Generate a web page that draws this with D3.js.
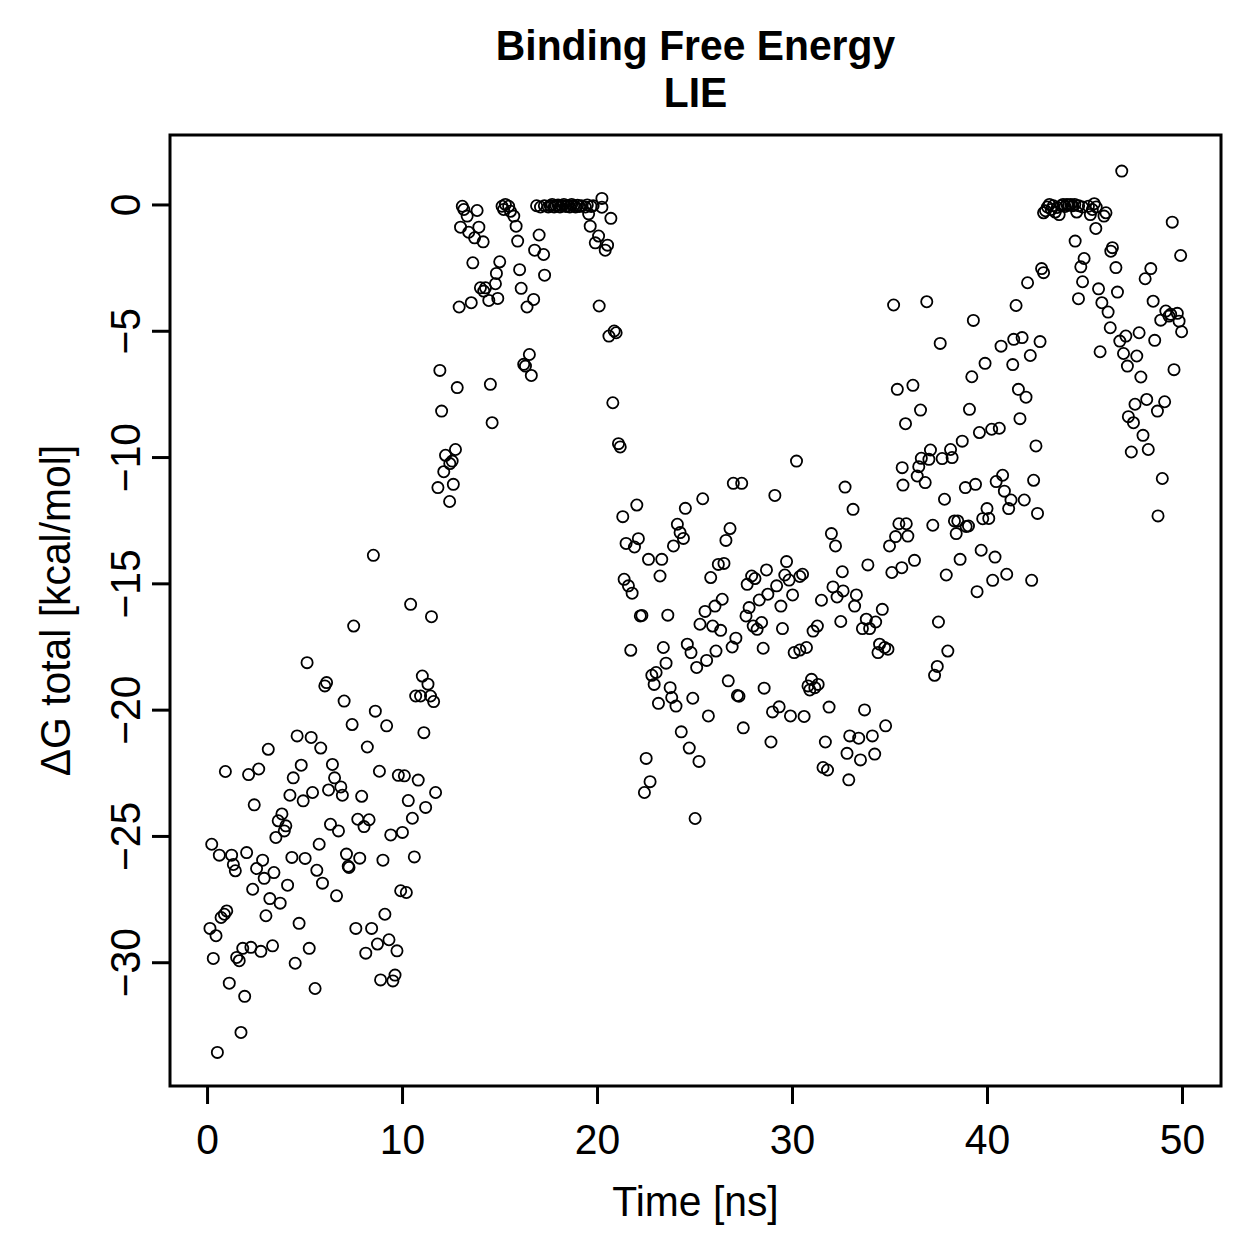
<!DOCTYPE html>
<html>
<head>
<meta charset="utf-8">
<script src="https://d3js.org/d3.v7.min.js"></script>
<style>
  body { margin: 0; background: #fff; }
  text { font-family: "Liberation Sans", Arial, Helvetica, sans-serif; fill: #000; }
</style>
</head>
<body>
<div id="chart"></div>
<script>
// [time ns, dG kcal/mol], grouped by phase of the run
const bound1 = [
  [8.53,-13.89],[10.44,-15.83],[11.51,-16.32],[7.52,-16.69],[5.13,-18.14],[6.13,-18.93],[6.04,-19.06],[7.03,-19.66],
  [11.04,-18.67],[11.33,-18.99],[10.70,-19.46],[10.95,-19.46],[11.46,-19.46],[11.62,-19.68],[8.63,-20.06],[7.44,-20.59],
  [9.21,-20.64],[11.12,-20.91],[4.62,-21.04],[5.34,-21.10],[5.83,-21.52],[8.22,-21.48],[3.14,-21.57],[0.94,-22.45],
  [2.13,-22.57],[2.65,-22.35],[4.83,-22.20],[4.42,-22.70],[6.43,-22.17],[6.54,-22.70],[6.86,-23.06],[6.23,-23.18],
  [6.94,-23.39],[5.41,-23.28],[4.25,-23.39],[4.93,-23.61],[7.93,-23.43],[8.84,-22.44],[9.81,-22.60],[10.12,-22.62],
  [10.83,-22.79],[11.72,-23.28],[10.32,-23.60],[2.42,-23.77],[3.84,-24.13],[11.21,-23.87],[10.53,-24.30],[3.65,-24.40],
  [4.04,-24.60],[3.96,-24.80],[3.53,-25.06],[6.33,-24.54],[6.74,-24.80],[7.73,-24.34],[8.31,-24.36],[8.05,-24.63],
  [9.42,-24.96],[10.02,-24.86],[0.24,-25.33],[0.63,-25.76],[1.26,-25.76],[2.03,-25.66],[1.35,-26.13],[1.45,-26.38],
  [2.85,-25.96],[2.54,-26.29],[3.43,-26.45],[2.93,-26.68],[4.35,-25.85],[5.03,-25.89],[5.75,-25.33],[5.63,-26.36],
  [5.92,-26.87],[7.15,-25.72],[7.83,-25.88],[7.28,-26.25],[7.24,-26.20],[9.02,-25.96],[10.63,-25.83],[4.13,-26.95],
  [2.34,-27.11],[3.22,-27.48],[3.75,-27.66],[6.64,-27.37],[9.93,-27.17],[10.22,-27.24],[1.01,-27.97],[0.89,-28.10],
  [0.72,-28.23],[3.02,-28.16],[0.15,-28.66],[0.46,-28.95],[4.72,-28.46],[7.63,-28.66],[8.44,-28.66],[9.12,-28.10],
  [8.74,-29.28],[9.33,-29.11],[9.74,-29.55],[8.14,-29.64],[1.83,-29.45],[2.25,-29.41],[2.76,-29.57],[3.36,-29.35],
  [1.52,-29.81],[1.65,-29.94],[0.32,-29.85],[5.24,-29.45],[4.52,-30.04],[8.90,-30.70],[9.64,-30.51],[9.53,-30.74],
  [1.14,-30.83],[1.93,-31.35],[5.54,-31.04],[1.74,-32.78],[0.53,-33.57]
];

const unbound1 = [
  [13.09,-0.07],[13.17,-0.20],[13.85,-0.24],[13.34,-0.46],[13.00,-0.90],[13.42,-1.10],[13.94,-0.90],[13.72,-1.32],
  [14.16,-1.48],[15.13,-0.07],[15.30,0.00],[15.47,-0.07],[15.21,-0.20],[15.56,-0.27],[15.73,-0.46],[15.85,-0.86],
  [15.93,-1.45],
  [16.9,-0.05],[17.1,-0.10],[17.3,-0.05],[17.5,-0.10],[17.6,-0.05],[17.7,0.00],[17.8,-0.10],[17.9,-0.05],
  [18.0,-0.02],[18.1,-0.10],[18.2,-0.05],[18.3,0.00],[18.4,-0.08],[18.5,-0.05],[18.6,-0.10],[18.7,0.00],
  [18.8,-0.05],[18.9,-0.10],[19.0,-0.03],[19.1,-0.08],[19.2,-0.05],[19.4,-0.10],[19.5,-0.02],[19.7,-0.08],[19.8,-0.05],
  [20.25,0.24],[20.25,-0.11],[19.57,-0.37],[20.71,-0.55],[19.65,-0.86],[20.08,-1.25],[19.91,-1.52],[20.54,-1.61],
  [20.42,-1.81],[17.03,-1.21],[16.80,-1.81],[17.26,-1.98],[13.63,-2.31],[15.01,-2.27],[14.84,-2.73],[16.03,-2.58],
  [17.31,-2.80],[14.79,-3.14],[14.02,-3.30],[14.28,-3.30],[14.19,-3.43],[14.45,-3.80],[14.91,-3.72],[13.55,-3.89],
  [12.93,-4.06],[16.11,-3.32],[16.75,-3.76],[16.41,-4.06],[20.11,-4.02],[20.88,-5.01],[20.98,-5.08],[20.61,-5.21],
  [16.53,-5.94],[16.24,-6.33],[16.33,-6.40],[16.63,-6.77],[11.94,-6.57],[12.83,-7.25],[14.53,-7.12],[12.03,-8.18],
  [14.62,-8.64],[20.81,-7.85],[21.10,-9.47],[21.19,-9.60],[12.74,-9.70],[12.23,-9.93],[12.57,-10.16],[12.45,-10.26],
  [12.14,-10.58],[11.84,-11.21],[12.63,-11.08],[12.44,-11.76]
];

const bound2 = [
  [26.99,-11.04],[27.42,-11.04],[25.42,-11.65],[22.04,-11.90],[21.32,-12.36],[24.53,-12.03],[24.12,-12.66],[24.26,-12.99],
  [24.43,-13.22],[23.92,-13.52],[22.12,-13.23],[21.49,-13.42],[21.92,-13.56],[22.64,-14.05],[23.32,-14.05],[23.23,-14.71],
  [26.82,-12.83],[26.61,-13.30],[26.22,-14.25],[26.51,-14.21],[25.83,-14.77],[21.39,-14.84],[21.61,-15.10],[21.80,-15.39],
  [28.69,-14.47],[27.93,-14.71],[28.10,-14.81],[27.70,-15.04],[28.76,-15.43],[28.32,-15.66],[26.42,-15.63],[26.05,-15.90],
  [25.54,-16.11],[27.80,-15.96],[27.64,-16.29],[25.28,-16.62],[25.93,-16.69],[26.34,-16.86],[28.44,-16.55],[28.01,-16.69],
  [28.21,-16.82],[22.22,-16.29],[22.30,-16.27],[23.63,-16.26],[27.12,-17.17],[26.93,-17.52],[28.52,-17.57],[21.73,-17.65],
  [23.40,-17.54],[24.63,-17.41],[24.82,-17.74],[26.10,-17.68],[25.62,-18.05],[25.11,-18.33],[23.54,-18.16],[22.81,-18.64],
  [23.03,-18.53],[22.93,-19.00],[23.75,-19.13],[23.83,-19.52],[24.05,-19.86],[23.15,-19.75],[24.91,-19.55],[26.73,-18.86],
  [27.20,-19.44],[27.28,-19.47],[28.57,-19.15],[25.71,-20.25],[27.50,-20.72],[24.32,-20.88],[24.73,-21.52],[25.23,-22.05],
  [22.52,-21.93],[22.72,-22.85],[22.43,-23.28],[25.03,-24.31],
  [30.23,-10.16],[29.12,-11.52],[32.72,-11.19],[33.13,-12.07],[35.65,-10.42],[35.69,-11.11],[32.02,-13.03],[32.23,-13.52],
  [35.48,-12.64],[35.86,-12.64],[35.31,-13.15],[35.00,-13.52],[35.94,-13.13],[33.89,-14.27],[35.12,-14.57],[35.63,-14.38],
  [29.72,-14.14],[29.63,-14.67],[29.85,-14.87],[30.40,-14.73],[30.54,-14.64],[29.21,-15.10],[30.03,-15.46],[29.43,-15.90],
  [32.58,-14.54],[32.10,-15.14],[32.31,-15.54],[32.62,-15.30],[31.51,-15.67],[33.30,-15.46],[33.21,-15.90],[34.63,-16.03],
  [33.81,-16.42],[34.29,-16.53],[33.61,-16.79],[33.98,-16.79],[32.50,-16.51],[29.51,-16.79],[31.08,-16.89],[31.30,-16.69],
  [30.11,-17.74],[30.40,-17.64],[30.74,-17.54],[34.49,-17.41],[34.75,-17.54],[34.41,-17.74],[34.92,-17.61],[31.00,-18.80],
  [30.82,-19.06],[31.34,-19.00],[30.91,-19.22],[31.17,-19.13],[29.34,-19.89],[29.00,-20.09],[29.92,-20.25],[30.62,-20.27],
  [31.90,-19.90],[33.72,-20.01],[28.92,-21.28],[31.71,-21.28],[32.96,-21.04],[33.42,-21.13],[34.12,-21.04],[34.80,-20.64],
  [32.82,-21.73],[33.51,-21.99],[34.24,-21.76],[31.59,-22.29],[31.82,-22.39],[32.91,-22.78]
];

const unbound2 = [
  [42.08,-3.10],[35.21,-3.98],[36.91,-3.85],[41.49,-4.00],[39.30,-4.59],[37.60,-5.50],[40.72,-5.61],[41.37,-5.34],
  [41.80,-5.27],[42.72,-5.43],[42.22,-5.98],[41.32,-6.34],[39.90,-6.29],[39.22,-6.82],[35.40,-7.32],[36.20,-7.16],
  [41.61,-7.32],[42.00,-7.63],[36.59,-8.14],[35.82,-8.68],[39.10,-8.11],[41.69,-8.48],[39.61,-9.03],[40.24,-8.90],
  [40.63,-8.86],[38.73,-9.37],[42.51,-9.56],[38.13,-9.70],[38.21,-10.02],[37.70,-10.06],[37.10,-9.72],[37.02,-10.09],
  [36.63,-10.05],[36.50,-10.38],[36.42,-10.75],[36.83,-11.01],[37.82,-11.67],[38.89,-11.21],[39.41,-11.08],[40.80,-10.72],
  [40.47,-10.97],[40.89,-11.35],[41.23,-11.70],[41.11,-12.04],[41.91,-11.70],[42.39,-10.92],[42.59,-12.23],[40.00,-12.04],
  [39.78,-12.44],[40.09,-12.43],[38.33,-12.53],[38.50,-12.53],[38.42,-13.03],[38.93,-12.75],[39.05,-12.73],[37.22,-12.70],
  [36.28,-14.09],[37.91,-14.67],[38.62,-14.05],[39.70,-13.69],[40.41,-13.96],[40.29,-14.88],[41.01,-14.64],[39.49,-15.33],
  [42.29,-14.88],[37.51,-16.53],[37.99,-17.68],[37.45,-18.29],[37.31,-18.64],
  [42.9,-0.33],[43.0,-0.25],[43.1,-0.10],[43.2,0.00],[43.3,-0.20],[43.4,-0.05],[43.5,-0.30],[43.6,-0.12],[43.7,-0.40],
  [43.8,-0.05],[43.9,0.00],[44.0,-0.08],[44.1,0.00],[44.2,-0.03],[44.3,0.00],[44.4,-0.05],[44.5,0.00],[44.6,-0.30],
  [44.7,-0.05],[44.9,-0.10],[45.2,-0.07],[45.3,-0.40],[45.4,-0.20],[45.5,0.03],[45.6,-0.10],[46.0,-0.46],[46.1,-0.33],
  [46.91,1.32],[45.58,-0.95],[49.50,-0.70],[44.52,-1.45],[46.43,-1.71],[46.35,-1.85],[49.93,-2.02],[44.98,-2.14],
  [44.81,-2.47],[46.61,-2.50],[42.80,-2.54],[42.90,-2.70],[48.40,-2.54],[48.11,-2.94],[44.90,-3.06],[45.72,-3.34],
  [46.69,-3.47],[44.69,-3.73],[45.89,-3.89],[46.21,-4.26],[48.52,-3.83],[49.17,-4.22],[49.42,-4.35],[49.76,-4.31],
  [48.91,-4.58],[49.85,-4.62],[49.98,-5.04],[49.33,-4.42],[46.32,-4.88],[47.12,-5.21],[46.81,-5.41],[47.80,-5.08],
  [48.60,-5.38],[45.80,-5.83],[47.00,-5.90],[47.68,-6.00],[47.20,-6.40],[47.89,-6.83],[49.59,-6.54],[47.59,-7.91],
  [48.19,-7.72],[48.74,-8.18],[49.11,-7.81],[47.25,-8.40],[47.51,-8.64],[48.00,-9.14],[47.40,-9.80],[48.27,-9.70],
  [48.99,-10.85],[48.77,-12.33]
];

const xTicks = [0, 10, 20, 30, 40, 50];
const yTicks = [0, -5, -10, -15, -20, -25, -30];
const titleLines = ["Binding Free Energy", "LIE"];
const xLabel = "Time [ns]";
const yLabel = "\u0394G total [kcal/mol]";

const W = 1259, H = 1259;
const box = { left: 170, right: 1221, top: 135, bottom: 1086 };
const fontSize = 43, squeeze = 0.95;   // the original font is a bit narrower than Liberation Sans
const points = bound1.concat(unbound1, bound2, unbound2);

const svg = d3.select("#chart").append("svg")
  .attr("width", W).attr("height", H)
  .style("background", "#fff");

// R style axis ranges: data range padded by 4 %
const x = d3.scaleLinear().domain([-1.9, 52.0]).range([box.left, box.right]);
const y = d3.scaleLinear().domain([-34.9, 2.75]).range([box.bottom, box.top]);

svg.append("g").selectAll("circle")
  .data(points)
  .enter().append("circle")
  .attr("cx", d => x(d[0]))
  .attr("cy", d => y(d[1]))
  .attr("r", 5.6)
  .attr("fill", "none")
  .attr("stroke", "#000")
  .attr("stroke-width", 1.8);

let xAxis = d3.axisBottom(x).tickValues(xTicks).tickSize(18).tickFormat(d3.format("d"));
let gx = svg.append("g").attr("transform", "translate(0," + box.bottom + ")").call(xAxis);
gx.select(".domain").remove();
gx.selectAll(".tick line").attr("stroke-width", 3);
gx.selectAll(".tick text")
  .style("font-size", fontSize + "px")
  .attr("fill", "#000")
  .attr("y", null).attr("dy", null)
  .attr("transform", "translate(0,68) scale(" + squeeze + ",1)");

let yAxis = d3.axisLeft(y).tickValues(yTicks).tickSize(18).tickFormat(d3.format("d"));
let gy = svg.append("g").attr("transform", "translate(" + box.left + ",0)").call(yAxis);
gy.select(".domain").remove();
gy.selectAll(".tick line").attr("stroke-width", 3);
gy.selectAll(".tick text")
  .style("font-size", fontSize + "px")
  .attr("fill", "#000")
  .attr("x", null).attr("y", null).attr("dy", null)
  .attr("text-anchor", "middle")
  .attr("transform", "translate(-30,0) rotate(-90) scale(" + squeeze + ",1)");

svg.append("rect")
  .attr("x", box.left).attr("y", box.top)
  .attr("width", box.right - box.left).attr("height", box.bottom - box.top)
  .attr("fill", "none").attr("stroke", "#000").attr("stroke-width", 3);

let cx = (box.left + box.right) / 2;
svg.selectAll(".title").data(titleLines).enter().append("text")
  .attr("class", "title")
  .attr("transform", (d, i) => "translate(" + cx + "," + (60 + i * 47) + ") scale(" + squeeze + ",1)")
  .attr("text-anchor", "middle")
  .style("font-size", fontSize + "px").style("font-weight", "bold")
  .text(d => d);

svg.append("text")
  .attr("transform", "translate(" + cx + ",1216) scale(" + squeeze + ",1)")
  .attr("text-anchor", "middle")
  .style("font-size", fontSize + "px")
  .text(xLabel);

svg.append("text")
  .attr("transform", "translate(70," + ((box.top + box.bottom) / 2) + ") rotate(-90) scale(" + squeeze + ",1)")
  .attr("text-anchor", "middle")
  .style("font-size", fontSize + "px")
  .text(yLabel);
</script>
</body>
</html>
